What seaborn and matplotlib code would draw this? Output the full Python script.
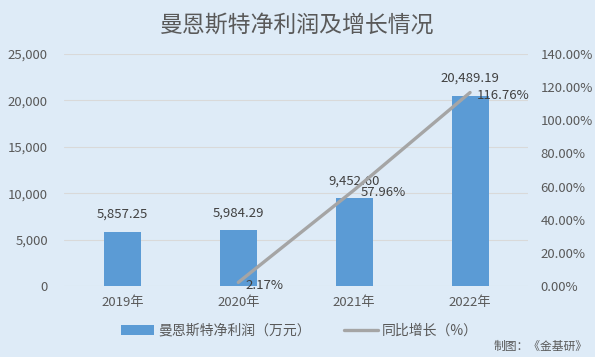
import numpy as np
import pandas as pd
import matplotlib
matplotlib.use('Agg')
import matplotlib.pyplot as plt
import seaborn as sns
from matplotlib.ticker import FuncFormatter
from matplotlib.patches import Patch
from matplotlib.lines import Line2D

# Chart data
years = ['2019年', '2020年', '2021年', '2022年']
profit = [5857.25, 5984.29, 9452.60, 20489.19]          # 净利润（万元）
growth_years = ['2020年', '2021年', '2022年']
growth = [2.17, 57.96, 116.76]                          # 同比增长（%）

bg = '#DEEBF7'
bar_color = '#5B9BD5'
line_color = '#A5A5A5'
text_color = '#595959'

sns.set_style('white')
plt.rcParams['font.family'] = ['Noto Sans CJK SC', 'DejaVu Sans']

fig = plt.figure(figsize=(5.95, 3.57), dpi=100, facecolor=bg)
ax = fig.add_axes([0.1084, 0.1989, 0.7790, 0.6498])
ax.set_facecolor(bg)

df = pd.DataFrame({'year': years, 'profit': profit})
sns.barplot(data=df, x='year', y='profit', color=bar_color, width=0.32,
            saturation=1, linewidth=0, ax=ax, zorder=2)

ax.set_ylim(0, 25000)
ax.set_yticks(np.arange(0, 25001, 5000))
ax.yaxis.set_major_formatter(FuncFormatter(lambda v, p: f'{v:,.0f}'))
ax.grid(axis='y', color='#D9D9D9', linewidth=0.8, zorder=0)
ax.set_axisbelow(True)
ax.set_xlabel('')
ax.set_ylabel('')
ax.tick_params(axis='y', length=0, pad=12, labelsize=9.5, labelcolor=text_color)
ax.tick_params(axis='x', length=0, pad=7, labelsize=9.5, labelcolor=text_color)
for s in ax.spines.values():
    s.set_visible(False)
ax.set_xlim(-0.5, 3.5)

# bar labels
for i, v in enumerate(profit):
    ax.annotate(f'{v:,.2f}', (i, v), xytext=(0, 8), textcoords='offset points',
                ha='center', va='bottom', fontsize=9.5, color='#404040')

# growth line on secondary axis
ax2 = ax.twinx()
gx = [years.index(y) for y in growth_years]
sns.lineplot(x=gx, y=growth, ax=ax2, color=line_color, linewidth=2.4,
             sort=False, zorder=3)
ax2.set_ylim(0, 140)
ax2.set_yticks(np.arange(0, 141, 20))
ax2.yaxis.set_major_formatter(FuncFormatter(lambda v, p: f'{v:.2f}%'))
ax2.tick_params(axis='y', length=0, pad=9, labelsize=9.5, labelcolor=text_color)
ax2.set_ylabel('')
for s in ax2.spines.values():
    s.set_visible(False)
ax2.grid(False)

for x, v in zip(gx, growth):
    ax2.annotate(f'{v:.2f}%', (x, v), xytext=(5, -2), textcoords='offset points',
                 ha='left', va='center', fontsize=9.5, color='#404040')

fig.text(0.5, 0.93, '曼恩斯特净利润及增长情况', ha='center', va='center',
         fontsize=16.5, color=text_color)

handles = [Patch(facecolor=bar_color, edgecolor='none'),
           Line2D([0], [0], color=line_color, linewidth=2.4)]
fig.legend(handles, ['曼恩斯特净利润（万元）', '同比增长（%）'],
           loc='center', bbox_to_anchor=(0.503, 0.073), ncol=2, frameon=False,
           fontsize=10, labelcolor=text_color, handlelength=2.4,
           handletextpad=0.3, columnspacing=2.4)

fig.text(0.988, 0.03, '制图：《金基研》', ha='right', va='center',
         fontsize=8.5, color=text_color)

fig.savefig('out.png', dpi=100, facecolor=bg)
